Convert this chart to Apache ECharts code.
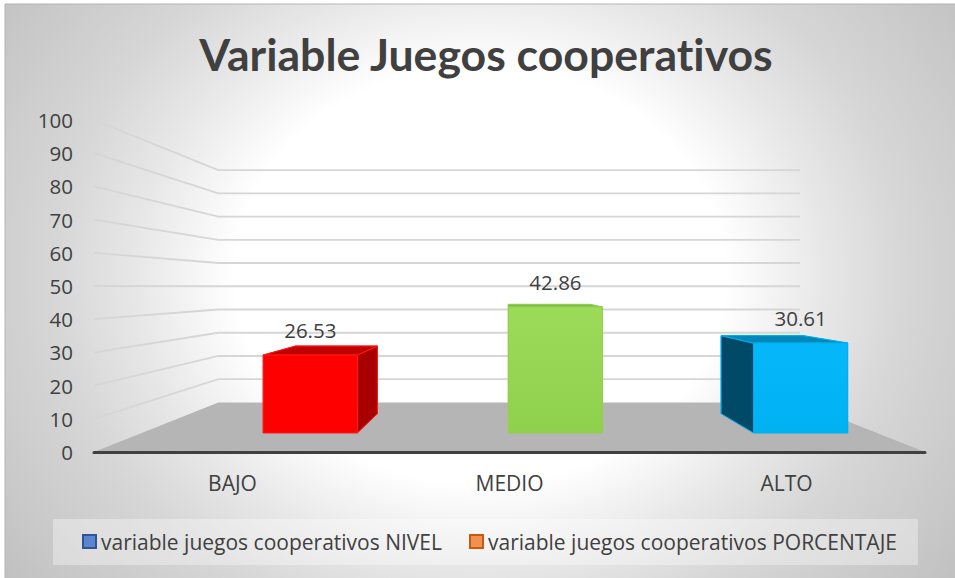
<!DOCTYPE html>
<html>
<head>
<meta charset="utf-8">
<style>html,body{margin:0;padding:0;background:#fff}#c{width:955px;height:578px}#c text{font-variant-ligatures:none}</style>
<script src="https://cdn.jsdelivr.net/npm/echarts@6/dist/echarts.min.js"></script>
</head>
<body>
<div id="c"></div>
<script>
var categories = ['BAJO', 'MEDIO', 'ALTO'];
var yTicks = [10, 20, 30, 40, 50, 60, 70, 80, 90, 100];
var nivelValues = [null, null, null];
var porcentajeValues = [26.53, 42.86, 30.61];
var nivelName = 'variable juegos cooperativos NIVEL';
var porcentajeName = 'variable juegos cooperativos PORCENTAJE';

var faceColors = [
  { front: '#ff0000', top: '#c00000', side: '#a80000', edge: '#ff1a1a' },
  { front: ['#9cdb5a', '#8fd04d'], top: '#7fb845', side: '#6f9f3c', edge: '#92d050' },
  { front: ['#06b8fa', '#00b2f2'], top: '#0087b8', side: '#004a68', edge: '#00b0f0' }
];
var textColor = '#404040';
var bodyFont = '"Open Sans", sans-serif';

// Pseudo-3D projection: points on the front plane shrink toward a vanishing point.
var VANISH_X = 0.4986, VANISH_Y = 0.5026, BACK_K = 0.7;
var BAR_FRONT_K = 0.885, BAR_BACK_K = 0.768;
var BAR_LEFT = -0.004, BAR_RIGHT = 0.38;
var LABEL_LIFT = 24.7;

function projector(cs) {
  var vx = cs.x + cs.width * VANISH_X, vy = cs.y + cs.height * VANISH_Y;
  return function (p, k) { return [vx + (p[0] - vx) * k, vy + (p[1] - vy) * k]; };
}

function renderGrid(params, api) {
  var cs = params.coordSys, proj = projector(cs);
  var y = api.coord([0, api.value(1)])[1];
  var a = [cs.x, y], b = proj(a, BACK_K), c = proj([cs.x + cs.width, y], BACK_K);
  return { type: 'polyline', shape: { points: [a, b, c] }, silent: true,
    style: { fill: 'none', stroke: '#d6d6d6', lineWidth: 1.8 } };
}

function renderFloor(params, api) {
  var cs = params.coordSys, proj = projector(cs);
  var y = api.coord([0, api.value(1)])[1];
  var l = [cs.x, y], r = [cs.x + cs.width, y];
  return { type: 'polygon', shape: { points: [l, r, proj(r, BACK_K), proj(l, BACK_K)] }, silent: true,
    style: { fill: '#b5b5b5' } };
}

function poly(points, fill, edge) {
  return { type: 'polygon', shape: { points: points },
    style: { fill: fill, stroke: edge, lineWidth: 1, lineJoin: 'round' } };
}

function renderBar(params, api) {
  var v = api.value(1);
  if (v === null || isNaN(v)) return null;
  var proj = projector(params.coordSys);
  var i = api.value(0), top = api.coord([i, v]), base = api.coord([i, 0]);
  var band = api.size([1, 0])[0];
  var xl = top[0] + band * BAR_LEFT, xr = top[0] + band * BAR_RIGHT;
  var corner = function (x, y, k) { return proj([x, y], k); };
  var fTL = corner(xl, top[1], BAR_FRONT_K), fTR = corner(xr, top[1], BAR_FRONT_K);
  var fBL = corner(xl, base[1], BAR_FRONT_K), fBR = corner(xr, base[1], BAR_FRONT_K);
  var bTL = corner(xl, top[1], BAR_BACK_K), bTR = corner(xr, top[1], BAR_BACK_K);
  var bBL = corner(xl, base[1], BAR_BACK_K), bBR = corner(xr, base[1], BAR_BACK_K);
  var col = faceColors[i];
  var frontFill = Array.isArray(col.front)
    ? new echarts.graphic.LinearGradient(0, 0, 0, 1, [{ offset: 0, color: col.front[0] }, { offset: 1, color: col.front[1] }])
    : col.front;
  return { type: 'group', children: [
    poly([bTL, bTR, bBR, bBL], col.side, col.edge),
    poly([fTL, bTL, bBL, fBL], col.side, col.edge),
    poly([fTR, bTR, bBR, fBR], col.side, col.edge),
    poly([fTL, fTR, bTR, bTL], col.top, col.edge),
    poly([fTL, fTR, fBR, fBL], frontFill, col.edge),
    { type: 'text', style: { text: v.toFixed(2), x: (fTL[0] + fTR[0]) / 2, y: fTL[1] - LABEL_LIFT,
        align: 'center', verticalAlign: 'middle', fill: textColor, font: '20.5px ' + bodyFont } }
  ] };
}

var chart = echarts.init(document.getElementById('c'), null, { renderer: 'svg' });
chart.setOption({
  animation: false,
  graphic: [{
    type: 'rect', z: -10, silent: true, scaleY: 0.85,
    shape: { x: 5, y: 4.7, width: 960, height: 690 },
    style: {
      stroke: '#b0b0b0', lineWidth: 1,
      fill: new echarts.graphic.RadialGradient(480, 323.5, 620, [
        { offset: 0, color: '#ffffff' }, { offset: 0.395, color: '#ffffff' },
        { offset: 0.55, color: '#e8e8e8' }, { offset: 0.69, color: '#d6d6d6' },
        { offset: 0.92, color: '#c4c4c4' }, { offset: 1, color: '#bdbdbd' }], true)
    }
  }],
  title: {
    text: 'Variable Juegos cooperativos', left: 481, top: 26, textAlign: 'center',
    textStyle: { color: textColor, fontFamily: 'Lato, sans-serif', fontWeight: 'bold', fontSize: 44.6 }
  },
  legend: {
    left: 53, top: 519, selectedMode: false, itemWidth: 13, itemHeight: 13, itemGap: 27,
    padding: [12, 21, 13, 29], backgroundColor: 'rgba(255,255,255,0.35)',
    textStyle: { color: textColor, fontFamily: bodyFont, fontSize: 21 },
    data: [
      { name: nivelName, icon: 'rect', itemStyle: { color: '#5b85cf', borderColor: '#2f5597', borderWidth: 2 } },
      { name: porcentajeName, icon: 'rect', itemStyle: { color: '#f4904f', borderColor: '#c55a11', borderWidth: 2 } }
    ]
  },
  grid: { left: 94, right: 30, top: 120, bottom: 126 },
  xAxis: {
    type: 'category', data: categories, z: 5,
    axisTick: { show: false },
    axisLine: { lineStyle: { color: '#404040', width: 3, cap: 'round' } },
    axisLabel: { color: textColor, fontFamily: bodyFont, fontSize: 21, margin: 20 }
  },
  yAxis: {
    type: 'value', min: 0, max: 100, interval: 10,
    splitLine: { show: false }, axisTick: { show: false }, axisLine: { show: false },
    axisLabel: { color: textColor, fontFamily: bodyFont, fontSize: 20.5, margin: 21, padding: [6, 0, 0, 0] }
  },
  series: [
    { type: 'custom', name: 'grid', z: 1, coordinateSystem: 'cartesian2d', renderItem: renderGrid,
      encode: { x: 0, y: 1 }, data: yTicks.map(function (t) { return [0, t]; }), silent: true },
    { type: 'custom', name: 'floor', z: 1, coordinateSystem: 'cartesian2d', renderItem: renderFloor,
      encode: { x: 0, y: 1 }, data: [[0, 0]], silent: true },
    { type: 'custom', name: nivelName, z: 2, coordinateSystem: 'cartesian2d', renderItem: renderBar,
      encode: { x: 0, y: 1 }, data: nivelValues.map(function (v, i) { return [i, v]; }), silent: true },
    { type: 'custom', name: porcentajeName, z: 2, coordinateSystem: 'cartesian2d', renderItem: renderBar,
      encode: { x: 0, y: 1 }, data: porcentajeValues.map(function (v, i) { return [i, v]; }), silent: true }
  ]
});
</script>
</body>
</html>
